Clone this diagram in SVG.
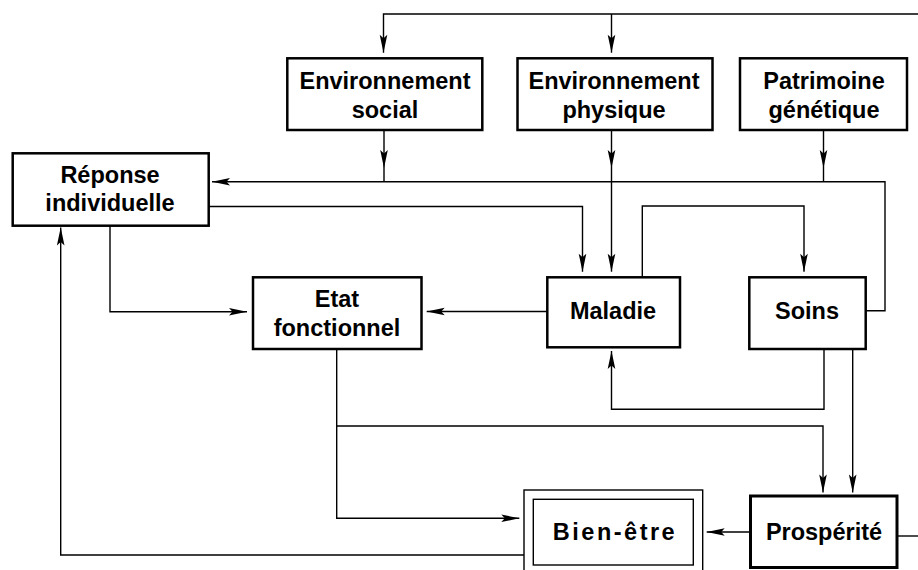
<svg xmlns="http://www.w3.org/2000/svg" width="918" height="570" viewBox="0 0 918 570">
<style>
.box{fill:#fff;stroke:#000;stroke-width:2.5}
.thin{fill:#fff;stroke:#000;stroke-width:1.4}
.lbl{font-family:"Liberation Sans",Arial,Helvetica,sans-serif;font-weight:bold;font-size:23.5px;text-anchor:middle;fill:#000}
.wide{letter-spacing:2.5px}
.c path,.c line{fill:none;stroke:#000;stroke-width:1.4}
</style>
<defs>
<marker id="ah" viewBox="-19 -5 20 10" refX="0" refY="0" markerWidth="20" markerHeight="10" orient="auto" markerUnits="userSpaceOnUse">
<path d="M0,0 L-18,-3.8 L-14.5,0 L-18,3.8 Z" fill="#000" stroke="none"/>
</marker>
</defs>
<rect width="918" height="570" fill="#fff"/>

<g id="connectors" class="c">
<!-- top feed -->
<path d="M918,14 H383.5 V52.7" marker-end="url(#ah)"/>
<path d="M611.5,14 V52.7" marker-end="url(#ah)"/>
<!-- env social down to merge line -->
<path d="M384,130 V168" marker-end="url(#ah)"/>
<line x1="384" y1="168" x2="384" y2="181.7"/>
<!-- env physique down to maladie -->
<path d="M611.5,130 V168" marker-end="url(#ah)"/>
<path d="M611.5,168 V271.7" marker-end="url(#ah)"/>
<!-- patrimoine down -->
<path d="M823.5,130 V168" marker-end="url(#ah)"/>
<line x1="823.5" y1="168" x2="823.5" y2="181.7"/>
<!-- soins right up and left to reponse -->
<path d="M866,310.7 H885 V181.7 H212" marker-end="url(#ah)"/>
<!-- reponse to maladie -->
<path d="M208.7,206.5 H582.5 V271.7" marker-end="url(#ah)"/>
<!-- maladie to soins -->
<path d="M642.3,277.3 V206 H804 V271.7" marker-end="url(#ah)"/>
<!-- maladie to etat -->
<path d="M547.3,311.5 H426.7" marker-end="url(#ah)"/>
<!-- reponse to etat -->
<path d="M110,225.7 V311.7 H247" marker-end="url(#ah)"/>
<!-- etat to bien-etre -->
<path d="M336.7,349 V518.3 H519.3" marker-end="url(#ah)"/>
<!-- etat to prosperite -->
<path d="M336.7,426 H823 V492.5" marker-end="url(#ah)"/>
<!-- soins to maladie -->
<path d="M824,349 V409.3 H611.5 V351" marker-end="url(#ah)"/>
<!-- soins to prosperite -->
<path d="M852.7,349 V492.5" marker-end="url(#ah)"/>
<!-- prosperite to bien-etre -->
<path d="M750,532 H706.7" marker-end="url(#ah)"/>
<!-- prosperite right -->
<line x1="897" y1="536" x2="918" y2="536"/>
<!-- bien-etre to reponse -->
<path d="M524,555 H60.7 V227.5" marker-end="url(#ah)"/>
</g>

<g id="env-social">
<rect class="box" x="287.3" y="58.3" width="195" height="71.7"/>
<text class="lbl" x="385" y="89">Environnement</text>
<text class="lbl" x="385" y="118">social</text>
</g>
<g id="env-physique">
<rect class="box" x="517.5" y="58.3" width="195" height="71.7"/>
<text class="lbl" x="614" y="89">Environnement</text>
<text class="lbl" x="614" y="118">physique</text>
</g>
<g id="patrimoine">
<rect class="box" x="740" y="58.3" width="167" height="71.7"/>
<text class="lbl" x="824" y="89">Patrimoine</text>
<text class="lbl" x="824" y="118">génétique</text>
</g>
<g id="reponse">
<rect class="box" x="12.7" y="153.3" width="196" height="72.4"/>
<text class="lbl" x="110" y="182.7">Réponse</text>
<text class="lbl" x="110" y="211">individuelle</text>
</g>
<g id="etat">
<rect class="box" x="253" y="277.3" width="168.5" height="71.7"/>
<text class="lbl" x="337" y="306.7">Etat</text>
<text class="lbl" x="337" y="336">fonctionnel</text>
</g>
<g id="maladie">
<rect class="box" x="547.3" y="277.3" width="132.7" height="70"/>
<text class="lbl" x="613" y="318.5">Maladie</text>
</g>
<g id="soins">
<rect class="box" x="749.3" y="277.3" width="116.4" height="71.7"/>
<text class="lbl" x="807" y="318.5">Soins</text>
</g>
<g id="bien-etre">
<rect class="thin" x="524" y="490" width="178.7" height="90"/>
<rect class="thin" x="533.3" y="499.3" width="160" height="65.7"/>
<text class="lbl wide" x="615" y="540">Bien-être</text>
</g>
<g id="prosperite">
<rect class="box" x="750.5" y="496" width="146.5" height="71.5" style="stroke-width:3"/>
<text class="lbl" x="824" y="540">Prospérité</text>
</g>
</svg>
